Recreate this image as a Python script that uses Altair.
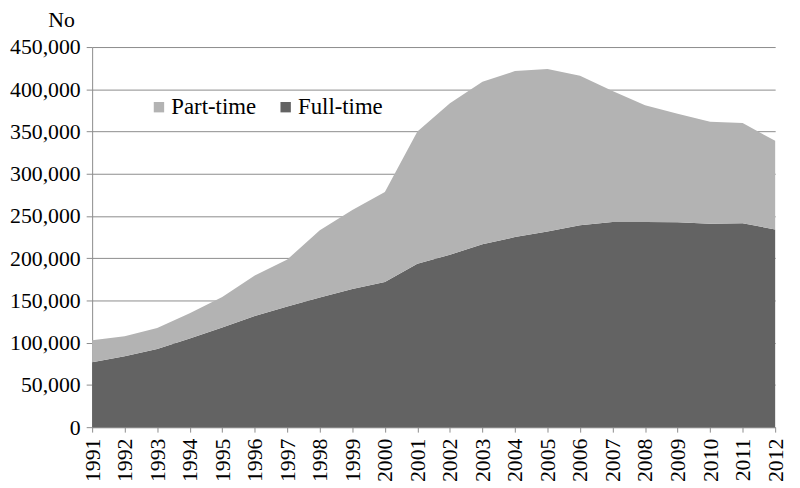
import altair as alt
import pandas as pd

years = [1991, 1992, 1993, 1994, 1995, 1996, 1997, 1998, 1999, 2000, 2001,
         2002, 2003, 2004, 2005, 2006, 2007, 2008, 2009, 2010, 2011, 2012]
full_time = [77000, 84000, 92500, 105000, 118000, 131500, 143000, 153500, 163500, 172000, 193500,
             204000, 216500, 225000, 231500, 239000, 243000, 243000, 242500, 240800, 241500, 234000]
part_time = [26000, 23500, 25000, 30000, 36000, 48000, 55500, 79500, 93500, 106500, 156500,
             179500, 192500, 196500, 192500, 177000, 155000, 138000, 128500, 120700, 118500, 105000]
series = ["Part-time", "Full-time"]
colors = ["#b3b3b3", "#636363"]
y_ticks = [0, 50000, 100000, 150000, 200000, 250000, 300000, 350000, 400000, 450000]

rows = []
for i, yr in enumerate(years):
    rows.append({"year": yr, "type": "Full-time", "value": full_time[i], "ord": 0})
    rows.append({"year": yr, "type": "Part-time", "value": part_time[i], "ord": 1})
df = pd.DataFrame(rows)

FONT = "Liberation Serif"
FS = 23
AFS = 22

chart = alt.Chart(df).mark_area(opacity=1).encode(
    x=alt.X("year:Q",
            scale=alt.Scale(domain=[1991, 2012], nice=False, zero=False),
            axis=alt.Axis(values=years, format="d", labelAngle=270, title=None,
                          grid=False, tickSize=5, labelPadding=6)),
    y=alt.Y("value:Q", stack="zero",
            scale=alt.Scale(domain=[0, 450000], nice=False),
            axis=alt.Axis(values=y_ticks, format=",.0f", title="No", titleAngle=0,
                          titleAlign="right", titleBaseline="alphabetic",
                          titleX=-18, titleY=-21, titleFont=FONT, titleFontSize=22,
                          titleFontWeight="normal", titleColor="black",
                          grid=True, tickSize=6, labelPadding=6)),
    color=alt.Color("type:N",
                    scale=alt.Scale(domain=series, range=colors),
                    legend=alt.Legend(orient="none", legendX=56, legendY=49,
                                      direction="horizontal", title=None,
                                      symbolType="square", symbolSize=110,
                                      symbolStrokeWidth=0, symbolOpacity=1,
                                      labelFont=FONT, labelFontSize=FS,
                                      labelColor="black", labelOffset=1,
                                      columnPadding=18)),
    order=alt.Order("ord:Q"),
).properties(
    width=690, height=384, autosize="none",
    padding={"left": 85, "top": 37, "right": 17, "bottom": 59},
).configure_view(stroke=None).configure_axis(
    domainColor="#8c8c8c", tickColor="#8c8c8c", gridColor="#8c8c8c",
    labelFont=FONT, labelFontSize=AFS, labelColor="black",
    domainWidth=1, gridWidth=1, tickWidth=1,
)

chart.save("out.html", embed_options={"renderer": "svg", "actions": False})
